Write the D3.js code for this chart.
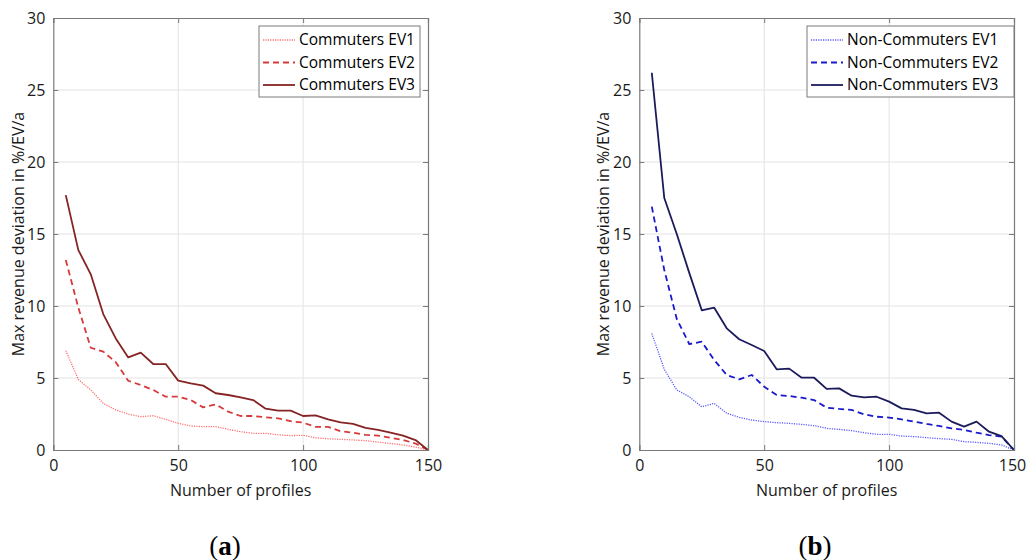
<!DOCTYPE html>
<html>
<head>
<meta charset="utf-8">
<script src="https://cdn.jsdelivr.net/npm/d3@7"></script>
<style>
  html, body { margin: 0; padding: 0; background: #fff; }
  svg { display: block; }
</style>
</head>
<body>
<svg id="chart" width="1026" height="560"></svg>
<script>
// ---------- DATA ----------
const profiles = [5,10,15,20,25,30,35,40,45,50,55,60,65,70,75,80,85,90,95,100,105,110,115,120,125,130,135,140,145,150];

const commutersEV1 = [6.9,4.9,4.17,3.24,2.78,2.5,2.31,2.38,2.13,1.85,1.67,1.62,1.62,1.44,1.27,1.16,1.16,1.05,1.0,1.02,0.85,0.78,0.74,0.7,0.65,0.55,0.45,0.35,0.2,0];
const commutersEV2 = [13.2,9.9,7.1,6.83,6.1,4.81,4.51,4.17,3.7,3.7,3.47,2.96,3.17,2.66,2.36,2.36,2.27,2.2,2.0,1.9,1.6,1.6,1.3,1.2,1.05,1.0,0.85,0.7,0.45,0];
const commutersEV3 = [17.7,13.9,12.2,9.44,7.75,6.43,6.76,5.97,5.97,4.82,4.63,4.47,3.94,3.82,3.66,3.47,2.87,2.73,2.73,2.36,2.41,2.13,1.92,1.81,1.53,1.39,1.2,1.0,0.69,0];

const nonCommutersEV1 = [8.1,5.6,4.17,3.7,3.0,3.24,2.55,2.27,2.08,1.97,1.9,1.85,1.78,1.69,1.5,1.43,1.34,1.2,1.09,1.09,0.97,0.93,0.86,0.79,0.74,0.58,0.53,0.46,0.35,0];
const nonCommutersEV2 = [16.9,12.5,9.1,7.36,7.52,6.25,5.21,4.91,5.21,4.4,3.82,3.75,3.63,3.47,2.94,2.85,2.78,2.48,2.31,2.25,2.13,1.97,1.81,1.67,1.5,1.39,1.2,1.04,0.93,0];
const nonCommutersEV3 = [26.2,17.5,15.0,12.3,9.7,9.88,8.45,7.69,7.29,6.875,5.6,5.65,5.02,5.02,4.24,4.28,3.77,3.66,3.7,3.36,2.89,2.78,2.55,2.59,1.97,1.62,1.97,1.27,0.97,0];

const xTicks = [0,50,100,150];
const yTicks = [0,5,10,15,20,25,30];

const leftNames = ["Commuters EV1","Commuters EV2","Commuters EV3"];
const rightNames = ["Non-Commuters EV1","Non-Commuters EV2","Non-Commuters EV3"];

const xLabel = "Number of profiles";
const yLabel = "Max revenue deviation in %/EV/a";
const panelLabels = ["a","b"];

// ---------- STYLES ----------
const leftStyles = [
  {color:"#ff6f6f", width:1.3, dash:"1.2,1.2"},
  {color:"#d63a3a", width:1.8, dash:"6,4"},
  {color:"#862424", width:1.8, dash:null}
];
const rightStyles = [
  {color:"#5a5aff", width:1.3, dash:"1.2,1.2"},
  {color:"#1a1acc", width:1.8, dash:"6,4"},
  {color:"#1b1b5c", width:1.8, dash:null}
];

const svg = d3.select("#chart");
const font = "'Open Sans', 'Noto Sans', sans-serif";
const fs = "16px";

function panel(opts) {
  const {x0, x1, y0, y1, series, names, styles, legendBox, label, yTitleX} = opts;
  const g = svg.append("g");
  const x = d3.scaleLinear().domain([0,150]).range([x0,x1]);
  const y = d3.scaleLinear().domain([0,30]).range([y1,y0]);

  // grid
  g.append("g").selectAll("line").data(xTicks.slice(1,-1)).join("line")
    .attr("x1", d=>x(d)).attr("x2", d=>x(d)).attr("y1", y0).attr("y2", y1)
    .attr("stroke","#e3e3e3").attr("stroke-width",1);
  g.append("g").selectAll("line").data(yTicks.slice(1,-1)).join("line")
    .attr("y1", d=>y(d)).attr("y2", d=>y(d)).attr("x1", x0).attr("x2", x1)
    .attr("stroke","#e3e3e3").attr("stroke-width",1);

  // lines
  const line = d3.line().x((d,i)=>x(profiles[i])).y(d=>y(d));
  series.forEach((s,i)=>{
    const st = styles[i];
    g.append("path").datum(s)
      .attr("d", line)
      .attr("fill","none")
      .attr("stroke", st.color)
      .attr("stroke-width", st.width)
      .attr("stroke-dasharray", st.dash)
      .attr("stroke-linejoin","round");
  });

  // axes (MATLAB-like box with inward ticks)
  const axColor = "#7a7a7a";
  const bottom = g.append("g").attr("transform", `translate(0,${y1})`)
    .call(d3.axisBottom(x).tickValues(xTicks).tickSize(-5).tickPadding(10).tickFormat(d3.format("d")));
  const top = g.append("g").attr("transform", `translate(0,${y0})`)
    .call(d3.axisTop(x).tickValues(xTicks).tickSize(-5).tickFormat(""));
  const left = g.append("g").attr("transform", `translate(${x0},0)`)
    .call(d3.axisLeft(y).tickValues(yTicks).tickSize(-5).tickPadding(8).tickFormat(d3.format("d")));
  const right = g.append("g").attr("transform", `translate(${x1},0)`)
    .call(d3.axisRight(y).tickValues(yTicks).tickSize(-5).tickFormat(""));
  [bottom, top, left, right].forEach(a=>{
    a.select(".domain").attr("stroke", axColor).attr("stroke-width",1.2);
    a.selectAll(".tick line").attr("stroke", axColor);
    a.selectAll("text").attr("fill","#1a1a1a").style("font-family", font).style("font-size", fs);
  });
  if (opts.shiftLast) {
    bottom.selectAll(".tick text").filter(d=>d===150).attr("dx", -opts.shiftLast);
  }

  // axis titles
  g.append("text").attr("x", (x0+x1)/2).attr("y", 496)
    .attr("text-anchor","middle").attr("fill","#1a1a1a")
    .style("font-family", font).style("font-size", fs).text(xLabel);
  g.append("text")
    .attr("transform", `translate(${yTitleX},${(y0+y1)/2}) rotate(-90)`)
    .attr("text-anchor","middle").attr("fill","#1a1a1a")
    .style("font-family", font).style("font-size", fs).text(yLabel);

  // legend
  const lb = legendBox;
  const lg = g.append("g");
  lg.append("rect").attr("x", lb.x).attr("y", lb.y).attr("width", lb.w).attr("height", lb.h)
    .attr("fill","#fff").attr("stroke","#7a7a7a").attr("stroke-width",1);
  names.forEach((n,i)=>{
    const cy = lb.y + 14 + i*22.5;
    const st = styles[i];
    lg.append("line").attr("x1", lb.x+4).attr("x2", lb.x+lb.lineW)
      .attr("y1", cy).attr("y2", cy)
      .attr("stroke", st.color).attr("stroke-width", st.width)
      .attr("stroke-dasharray", st.dash);
    lg.append("text").attr("x", lb.x+lb.lineW+4).attr("y", cy).attr("dy","0.35em")
      .attr("fill","#000").style("font-family", font).style("font-size","15.5px").text(n);
  });

  // panel label
  const pl = g.append("text").attr("x", opts.labelX).attr("y", 555)
    .attr("text-anchor","middle").attr("fill","#000")
    .style("font-family","'Liberation Serif','DejaVu Serif',serif").style("font-size","27px");
  pl.append("tspan").text("(");
  pl.append("tspan").attr("font-weight","bold").text(label);
  pl.append("tspan").text(")");
}

panel({
  x0: 53.3, x1: 428, y0: 18, y1: 450,
  series: [commutersEV1, commutersEV2, commutersEV3],
  names: leftNames, styles: leftStyles,
  legendBox: {x:259, y:26, w:161, h:71, lineW:36},
  label: panelLabels[0], labelX: 225, yTitleX: 24, shiftLast: 0
});
panel({
  x0: 639.3, x1: 1014, y0: 18, y1: 450,
  series: [nonCommutersEV1, nonCommutersEV2, nonCommutersEV3],
  names: rightNames, styles: rightStyles,
  legendBox: {x:807, y:26, w:207, h:71, lineW:36},
  label: panelLabels[1], labelX: 815, yTitleX: 609, shiftLast: 2
});
</script>
</body>
</html>
